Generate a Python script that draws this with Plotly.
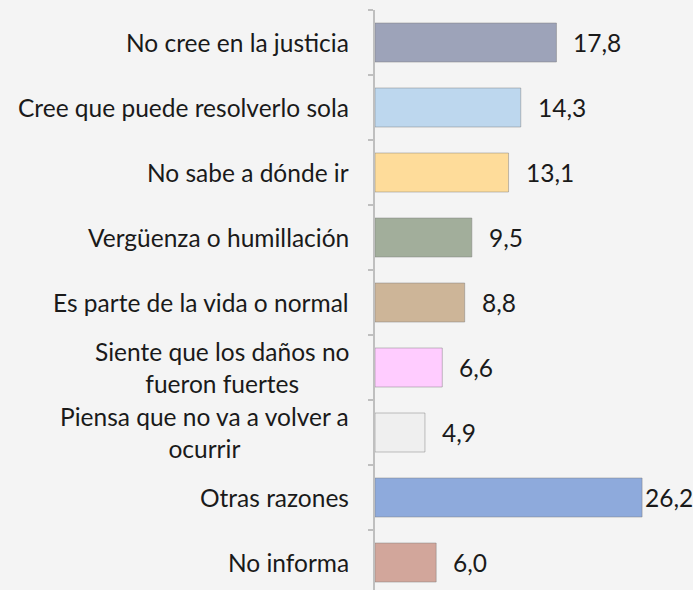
import plotly.graph_objects as go

categories = [
    "No cree en la justicia",
    "Cree que puede resolverlo sola",
    "No sabe a dónde ir",
    "Vergüenza o humillación",
    "Es parte de la vida o normal",
    "Siente que los daños no<br>fueron fuertes",
    "Piensa que no va a volver a<br>ocurrir",
    "Otras razones",
    "No informa",
]
values = [17.8, 14.3, 13.1, 9.5, 8.8, 6.6, 4.9, 26.2, 6.0]
value_labels = ["17,8", "14,3", "13,1", "9,5", "8,8", "6,6", "4,9", "26,2", "6,0"]
colors = ["#9da3b9", "#bdd7ee", "#fedc9a", "#a2ae9b", "#cdb598",
          "#ffccff", "#efefef", "#8eaadc", "#d2a69b"]

FONT = "Lato"
FS = 24.5
fig = go.Figure()
fig.add_trace(go.Bar(
    y=list(range(len(categories))),
    x=values,
    orientation="h",
    width=0.6,
    marker=dict(color=colors, line=dict(color="rgba(120,120,120,0.45)", width=1)),
    hoverinfo="skip",
))

annotations = []
vmax = max(values)
for i, (c, v, t) in enumerate(zip(categories, values, value_labels)):
    annotations.append(dict(
        x=0, y=i, xref="x", yref="y", text=c, showarrow=False,
        xanchor="right", yanchor="middle", align="center", xshift=-24,
        font=dict(family=FONT, size=FS, color="#1a1a1a"),
    ))
    annotations.append(dict(
        x=v, y=i, xref="x", yref="y", text=t, showarrow=False,
        xanchor="left", yanchor="middle",
        xshift=1 if v == vmax else 15,
        font=dict(family=FONT, size=FS, color="#1a1a1a"),
    ))

fig.update_layout(
    width=693, height=590,
    margin=dict(l=375, r=2, t=10, b=0),
    paper_bgcolor="#f4f4f4", plot_bgcolor="#f4f4f4",
    showlegend=False,
    bargap=0.4,
    annotations=annotations,
    xaxis=dict(range=[0, 31], visible=False, fixedrange=True),
    yaxis=dict(
        range=[8.423, -0.5], fixedrange=True,
        showticklabels=False, showgrid=False, zeroline=False,
        showline=True, linecolor="#bfbfbf", linewidth=2,
        ticks="outside", ticklen=5, tickcolor="#bfbfbf", tickwidth=2,
        tickmode="array", tickvals=[i - 0.5 for i in range(10)],
    ),
)

fig.write_html(
    "out.html",
    config={"displayModeBar": False},
    post_script="document.body.style.margin='0';document.body.style.overflow='hidden';",
)
